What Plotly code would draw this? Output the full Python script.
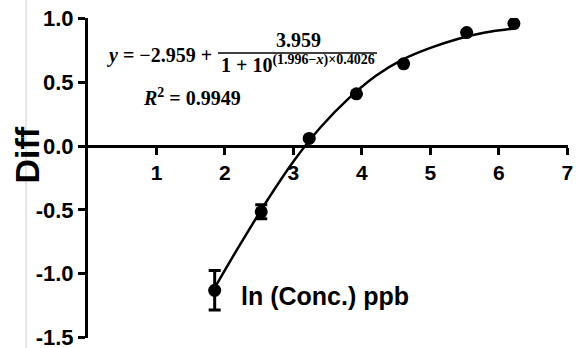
import plotly.graph_objects as go

# measured points
conc_ln = [1.85, 2.53, 3.23, 3.92, 4.61, 5.53, 6.22]
diff = [-1.13, -0.515, 0.06, 0.41, 0.645, 0.89, 0.96]
diff_err = [0.155, 0.055, 0.0, 0.0, 0.0, 0.0, 0.0]

# fitted curve
fit_x = [1.84, 2.2, 2.6, 3.0, 3.4, 3.8, 4.2, 4.6, 5.0, 5.4, 5.8, 6.21]
fit_y = [-1.12, -0.79, -0.44, -0.12, 0.15, 0.37, 0.55, 0.68, 0.77, 0.84, 0.89, 0.92]

x_ticks = [1, 2, 3, 4, 5, 6, 7]
y_ticks = [-1.5, -1.0, -0.5, 0.0, 0.5, 1.0]
y_tick_text = ["-1.5", "-1.0", "-0.5", "0.0", "0.5", "1.0"]

W, H = 585, 348
ML, MR, MT, MB = 88, 17, 18, 10
PAD = 0.004

fig = go.Figure()
fig.add_trace(go.Scatter(
    x=fit_x, y=fit_y, mode="lines", line=dict(color="black", width=2.5, shape="spline"),
    hoverinfo="skip", showlegend=False))
fig.add_trace(go.Scatter(
    x=conc_ln, y=diff, mode="markers",
    marker=dict(color="black", size=13),
    error_y=dict(type="data", array=diff_err, visible=True, color="black", thickness=3, width=6),
    showlegend=False))

ymin, ymax = -1.5 - PAD, 1.0 + PAD
xpos = (0 - ymin) / (ymax - ymin)

fig.update_layout(
    width=W, height=H, margin=dict(l=ML, r=MR, t=MT, b=MB, autoexpand=False),
    paper_bgcolor="white", plot_bgcolor="white",
    font=dict(family="Liberation Sans, Arial", color="black"),
    xaxis=dict(range=[0, 7.01], tickvals=x_ticks, ticks="outside", ticklen=7, tickwidth=3,
               tickcolor="black", showline=True, linewidth=3, linecolor="black",
               showgrid=False, zeroline=False, anchor="free", position=xpos,
               ticklabeloverflow="allow", automargin=False,
               tickfont=dict(size=21, family="Liberation Sans, Arial", color="black", weight="bold")),
    yaxis=dict(range=[ymin, ymax], tickvals=y_ticks, ticktext=y_tick_text, ticks="outside",
               ticklen=7, tickwidth=3, tickcolor="black", showline=True, linewidth=3,
               linecolor="black", showgrid=False, zeroline=False, ticklabeloverflow="allow",
               automargin=False,
               tickfont=dict(size=22, family="Liberation Sans, Arial", color="black", weight="bold")),
)

serif = "Liberation Serif, DejaVu Serif, serif"

def px2x(px):
    return (px - ML) / ((W - ML - MR) / 7.01)

def py2y(py):
    return ymax - (py - MT) / ((H - MT - MB) / (ymax - ymin))

anns = [
    dict(text="<b><i>y</i> = −2.959 + </b>", x=px2x(105), y=py2y(55), xanchor="left", yanchor="middle",
         font=dict(family=serif, size=20, weight=700)),
    dict(text="<b>3.959</b>", x=px2x(298), y=py2y(40), xanchor="center", yanchor="middle",
         font=dict(family=serif, size=20, weight=700)),
    dict(text="<b>1 + 10<sup>(1.996−<i>x</i>)×0.4026</sup></b>", x=px2x(219), y=py2y(64),
         xanchor="left", yanchor="middle", font=dict(family=serif, size=20, weight=700)),
    dict(text="<b><i>R</i><sup>2</sup> = 0.9949</b>", x=px2x(141), y=py2y(97), xanchor="left",
         yanchor="middle", font=dict(family=serif, size=20, weight=700)),
    dict(text="ln (Conc.) ppb", x=px2x(239), y=py2y(296), xanchor="left", yanchor="middle",
         font=dict(family="Liberation Sans, Arial", size=25, weight="bold")),
    dict(text="Diff", xref="paper", yref="paper", x=(26.5 - ML) / (W - ML - MR),
         y=1 - (155 - MT) / (H - MT - MB), xanchor="center", yanchor="middle", textangle=-90,
         font=dict(family="Liberation Sans, Arial", size=34, weight="bold")),
]
for a in anns:
    a.setdefault("xref", "x")
    a.setdefault("yref", "y")
    fig.add_annotation(showarrow=False, **a)

fig.add_shape(type="line", xref="x", yref="y", x0=px2x(218), x1=px2x(377), y0=py2y(53), y1=py2y(53),
              line=dict(color="black", width=1.5))
fig.add_shape(type="line", xref="paper", yref="paper", x0=(26 - ML) / (W - ML - MR),
              x1=(26 - ML) / (W - ML - MR), y0=-MB / (H - MT - MB), y1=1 + MT / (H - MT - MB),
              line=dict(color="#cccccc", width=1))

fig.write_html("out.html")
